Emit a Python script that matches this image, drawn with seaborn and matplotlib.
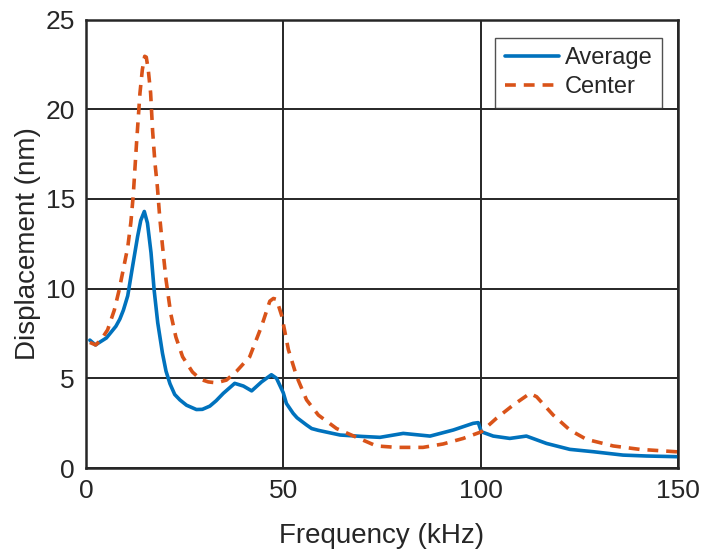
import pandas as pd
import matplotlib.pyplot as plt
import seaborn as sns

# Average displacement (blue solid)
avg_freq = [1, 2.4, 5.2, 7.6, 8.6, 9.5, 10.6, 11.8, 13.1, 13.9, 14.8, 15.6, 16.5, 17.3, 18.2,
            19.4, 20.3, 21.3, 22.5, 23.8, 25.5, 28, 29.5, 31.4, 33, 34.8, 37.7, 39.9, 42,
            44.5, 47, 48.3, 50, 50.8, 52.5, 53.5, 55.9, 57.2, 58.9, 64.4, 70, 74.5, 80.4,
            87.2, 93.1, 98.1, 99.4, 100.2, 103.2, 107.4, 111.6, 116.7, 122.6, 128.5,
            136.1, 142, 150]
avg_disp = [7.13, 6.86, 7.25, 7.9, 8.3, 8.8, 9.6, 11.2, 12.9, 13.8, 14.3, 13.65, 12.0, 9.9, 8.1,
            6.4, 5.4, 4.7, 4.1, 3.8, 3.5, 3.26, 3.27, 3.45, 3.75, 4.16, 4.72, 4.57, 4.3,
            4.8, 5.2, 5.0, 4.2, 3.6, 3.05, 2.8, 2.4, 2.2, 2.1, 1.84, 1.76, 1.71, 1.93,
            1.78, 2.12, 2.49, 2.53, 2.02, 1.78, 1.65, 1.78, 1.37, 1.04, 0.91,
            0.72, 0.67, 0.63]

# Center displacement (orange dashed)
ctr_freq = [1, 2.5, 4, 5.5, 7.2, 8.4, 9.5, 10.6, 11.4, 12.0, 12.8, 13.7, 14.3, 14.9, 15.3,
            15.8, 16.4, 16.9, 17.5, 18.1, 18.7, 19.4, 20.3, 21.5, 22.8, 24.5, 27, 29, 31,
            33, 35.6, 38.2, 41.5, 44.5, 46.6, 47.5, 48.3, 49.6, 51.3, 53.4, 55.9, 58.9,
            63.5, 68.6, 73.6, 78.7, 85.4, 90.5, 95.6, 100.2, 104, 108.2, 112.5, 114.2,
            118.4, 122.6, 126.8, 133.6, 140.3, 150]
ctr_disp = [7.0, 6.86, 7.2, 7.7, 8.8, 9.9, 11.1, 12.3, 13.7, 15.2, 18.0, 20.9, 22.2, 22.95, 22.9,
            22.2, 20.9, 18.8, 17.0, 15.7, 14.0, 12.4, 10.5, 8.6, 7.3, 6.2, 5.35, 4.95, 4.8,
            4.75, 4.9, 5.4, 6.2, 7.9, 9.3, 9.45, 9.4, 8.5, 6.6, 5.1, 3.8, 2.95,
            2.2, 1.71, 1.23, 1.15, 1.15, 1.34, 1.65, 2.02, 2.77, 3.5, 4.16, 3.97,
            2.95, 2.12, 1.6, 1.23, 1.04, 0.9]

avg = pd.DataFrame({'freq': avg_freq, 'disp': avg_disp})
ctr = pd.DataFrame({'freq': ctr_freq, 'disp': ctr_disp})

sns.set_style('white')
plt.rcParams['font.family'] = ['Liberation Sans', 'DejaVu Sans']

fig = plt.figure(figsize=(7.04, 5.54), dpi=100)
ax = fig.add_axes([0.122, 0.1552, 0.841, 0.8096])

sns.lineplot(data=avg, x='freq', y='disp', ax=ax, color='#0072BD', linewidth=2.6, label='Average')
sns.lineplot(data=ctr, x='freq', y='disp', ax=ax, color='#D95319', linewidth=2.6,
             linestyle=(0, (3, 2.2)), label='Center')

ax.set_xlim(0, 150)
ax.set_ylim(0, 25)
ax.set_xticks([0, 50, 100, 150])
ax.set_yticks([0, 5, 10, 15, 20, 25])
ax.grid(True, color='#262626', linewidth=1.4)
ax.set_axisbelow(True)
for s in ax.spines.values():
    s.set_color('#262626')
    s.set_linewidth(1.8)
ax.tick_params(labelsize=19, colors='#262626', direction='in', length=0, pad=8)
ax.set_xlabel('Frequency (kHz)', fontsize=20, color='#262626', labelpad=14)
ax.set_ylabel('Displacement (nm)', fontsize=20, color='#262626', labelpad=3)

leg = ax.legend(loc='upper right', fontsize=17, frameon=True, fancybox=False,
                edgecolor='#262626', handlelength=2.3, handletextpad=0.25,
                labelspacing=0.3, borderpad=0.4, borderaxespad=0,
                bbox_to_anchor=(0.973, 0.959))
leg.get_frame().set_linewidth(1.0)

plt.savefig('out.png', dpi=100)
